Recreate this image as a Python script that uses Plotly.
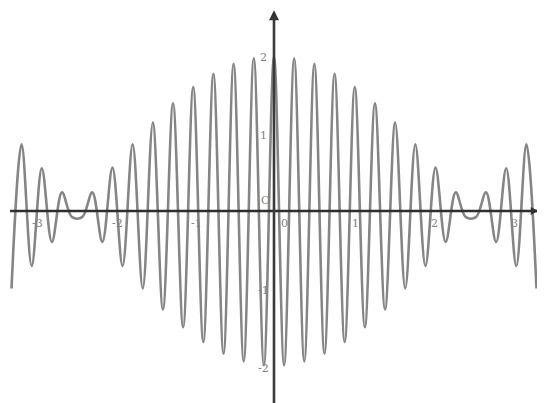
import plotly.graph_objects as go

# Extrema of the curve (right half; the graph is symmetric)
ext_x = [0.0, 0.127, 0.254, 0.381, 0.508, 0.635, 0.762, 0.889, 1.016, 1.143,
         1.270, 1.397, 1.524, 1.651, 1.778, 1.905, 2.032, 2.159, 2.286, 2.413,
         2.540, 2.667, 2.794, 2.921, 3.048, 3.175, 3.302]
ext_y = [2.00, -1.99, 1.97, -1.94, 1.90, -1.84, 1.77, -1.69, 1.60, -1.50,
         1.39, -1.27, 1.14, -1.00, 0.86, -0.71, 0.56, -0.40, 0.24, -0.08,
         -0.08, 0.24, -0.40, 0.55, -0.71, 0.86, -1.00]

x_ticks = [-3, -2, -1, 1, 2, 3]
x_tick_labels = ["-3", "-2", "-1", "1", "2", "3"]
y_ticks = [2, 1, -1, -2]
y_tick_labels = ["2", "1", "-1", "-2"]

# full curve: mirror of the right half
xs = [-v for v in reversed(ext_x[1:])] + ext_x
ys = list(reversed(ext_y[1:])) + ext_y

fig = go.Figure()
fig.add_trace(go.Scatter(
    x=xs, y=ys, mode="lines",
    line=dict(color="#858585", width=2.6, shape="spline", smoothing=1.0),
    hoverinfo="skip", showlegend=False))

# the page body has an 8px margin, so the figure is sized to the remaining view
X0, X1 = -3.346, 3.409
Y0, Y1 = -2.477, 2.619

shapes = [
    dict(type="line", xref="x", yref="y", x0=-3.32, x1=3.31, y0=0, y1=0,
         line=dict(color="#2e2e2e", width=2.6), layer="above"),
    dict(type="line", xref="x", yref="y", x0=0, x1=0, y0=Y0, y1=2.55,
         line=dict(color="#3a3a3a", width=2.6), layer="above"),
]

ann = []
font = dict(family="DejaVu Serif", size=11, color="#808080")
for v, t in zip(x_ticks, x_tick_labels):
    ann.append(dict(x=v, y=0, text=t, showarrow=False, xshift=2, yshift=-12, font=font))
for v, t in zip(y_ticks, y_tick_labels):
    ann.append(dict(x=0, y=v, text=t, showarrow=False, xshift=-11, yshift=-2, font=font))
ann.append(dict(x=0, y=0, text="O", showarrow=False, xshift=-9, yshift=11, font=font))
ann.append(dict(x=0, y=0, text="0", showarrow=False, xshift=10, yshift=-12, font=font))
# arrowhead on top of y-axis and end of x-axis
ann.append(dict(x=0, y=2.59, ax=0, ay=12, text="", showarrow=True,
                arrowhead=2, arrowsize=1, arrowwidth=2, arrowcolor="#333"))
ann.append(dict(x=3.33, y=0, ax=-10, ay=0, text="", showarrow=True,
                arrowhead=2, arrowsize=0.8, arrowwidth=2, arrowcolor="#333"))

fig.update_layout(
    width=537, height=395,
    margin=dict(l=0, r=0, t=0, b=0),
    paper_bgcolor="white", plot_bgcolor="white",
    xaxis=dict(range=[X0, X1], visible=False, fixedrange=True),
    yaxis=dict(range=[Y0, Y1], visible=False, fixedrange=True),
    shapes=shapes, annotations=ann,
)

fig.write_html("out.html")
